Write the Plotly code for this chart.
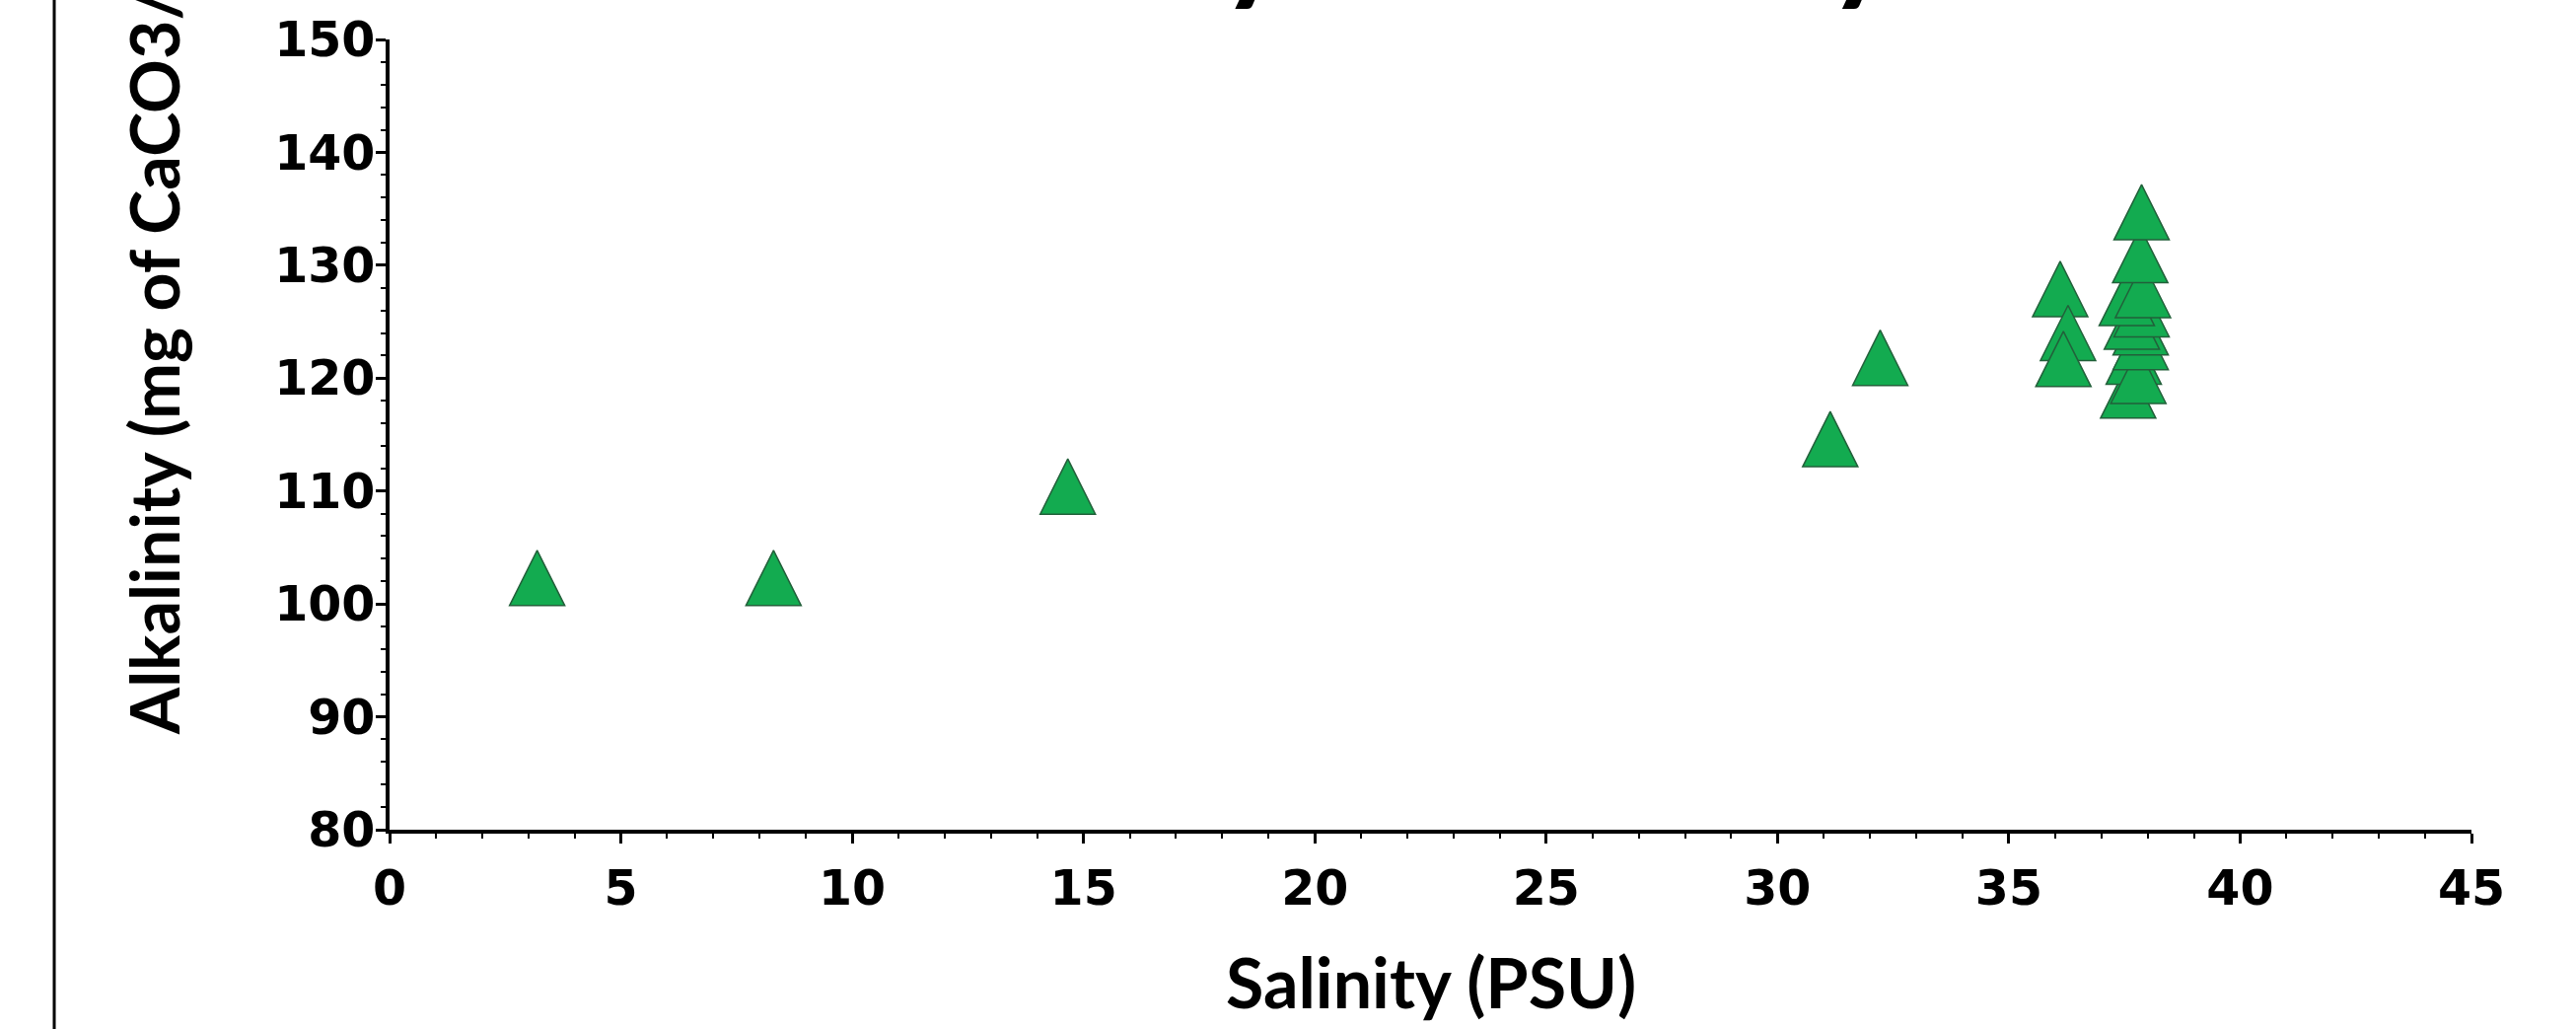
import plotly.graph_objects as go

# ---- data ----
salinity = [3.19, 8.30, 14.66, 31.14, 32.22,
            36.11, 36.28, 36.18,
            37.58, 37.70, 37.80, 37.85, 37.85, 37.66, 37.87, 37.55, 37.90, 37.84, 37.87]
alkalinity = [102.3, 102.3, 110.4, 114.6, 121.8,
              127.9, 124.0, 121.7,
              118.9, 121.9, 120.2, 123.2, 124.5, 125.0, 126.1, 127.1, 127.8, 130.9, 134.7]

x_ticks = [0, 5, 10, 15, 20, 25, 30, 35, 40, 45]
y_ticks = [80, 90, 100, 110, 120, 130, 140, 150]

title_text = "Alkalinity vs Salinity"
x_title = "Salinity (PSU)"
y_title = "Alkalinity (mg of CaCO3/L)"

# ---- layout geometry (pixels) ----
W, H = 2612, 1043
L, R, T, B = 395, 106, 40, 202
PW = W - L - R
PH = H - T - B


def pxx(px):
    return (px - L) / PW


def pxy(py):
    return (H - B - py) / PH


fig = go.Figure(
    go.Scatter(
        x=salinity, y=alkalinity, mode="markers",
        marker=dict(symbol="arrow-down", angle=180, standoff=28, size=56,
                    color="#13AB50", line=dict(color="#22603A", width=1.5)),
        hoverinfo="x+y",
    )
)

tick_font = dict(family="DejaVu Sans", size=49, color="black", weight="bold")

fig.update_layout(
    template="none",
    width=W, height=H,
    margin=dict(l=L, r=R, t=T, b=B, pad=0, autoexpand=False),
    paper_bgcolor="white", plot_bgcolor="white",
    showlegend=False,
    xaxis=dict(range=[0, 45], tickvals=x_ticks, ticks="outside", ticklen=10,
               tickwidth=2.5, tickcolor="black", showline=True, linewidth=3.5,
               linecolor="black", showgrid=False, zeroline=False, automargin=False,
               tickfont=tick_font, ticklabelstandoff=3,
               minor=dict(dtick=1, tick0=0, ticks="outside", ticklen=5, tickwidth=2,
                          tickcolor="black", showgrid=False)),
    yaxis=dict(range=[80, 150], tickvals=y_ticks, ticks="outside", ticklen=10,
               tickwidth=2.5, tickcolor="black", showline=True, linewidth=3.5,
               linecolor="black", showgrid=False, zeroline=False, automargin=False,
               tickfont=tick_font, ticklabelstandoff=-9,
               minor=dict(dtick=2, tick0=80, ticks="outside", ticklen=5, tickwidth=2,
                          tickcolor="black", showgrid=False)),
    annotations=[
        dict(text=title_text, xref="paper", yref="paper", x=pxx(750), y=pxy(16),
             xanchor="left", yanchor="bottom", showarrow=False, borderpad=0,
             font=dict(family="Lato", size=132, color="black", weight="bold")),
        dict(text=y_title, xref="paper", yref="paper", x=pxx(155), y=pxy(746),
             xanchor="center", yanchor="bottom", textangle=-90, showarrow=False,
             borderpad=0,
             font=dict(family="Lato", size=68, color="black", weight="bold")),
        dict(text=x_title, xref="paper", yref="paper", x=0.5, y=pxy(995),
             xanchor="center", yanchor="middle", showarrow=False, borderpad=0,
             font=dict(family="Lato", size=70, color="black", weight="bold")),
    ],
    shapes=[
        dict(type="line", xref="paper", yref="paper", x0=pxx(55), x1=pxx(55),
             y0=-0.5, y1=1.5, line=dict(color="black", width=3)),
    ],
)

fig.write_html(
    "out.html",
    config={"displayModeBar": False},
    post_script="document.body.style.margin='0px';document.body.style.overflow='hidden';",
)
